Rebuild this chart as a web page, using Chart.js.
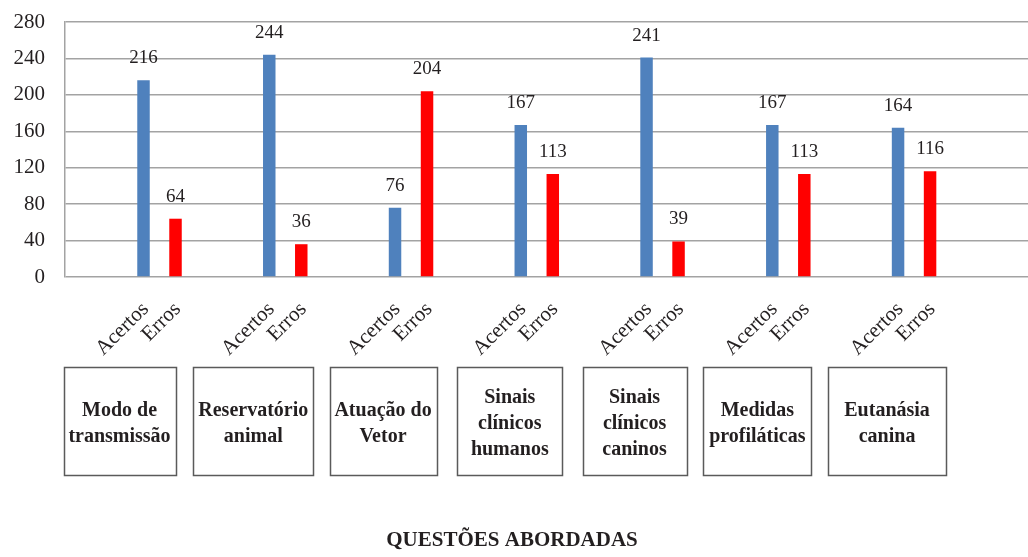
<!DOCTYPE html>
<html>
<head>
<meta charset="utf-8">
<script src="https://cdn.jsdelivr.net/npm/chart.js@4.4.1/dist/chart.umd.min.js"></script>
<style>
  html, body { margin: 0; padding: 0; background: #fff; }
  #wrap { width: 1028px; height: 557px; position: relative; }
</style>
</head>
<body>
<div id="wrap"><canvas id="barChart"></canvas></div>
<script>
// --- dados ---
const questoes = [
    ['Modo de', 'transmissão'],
    ['Reservatório', 'animal'],
    ['Atuação do', 'Vetor'],
    ['Sinais', 'clínicos', 'humanos'],
    ['Sinais', 'clínicos', 'caninos'],
    ['Medidas', 'profiláticas'],
    ['Eutanásia', 'canina']
];
const series = ['Acertos', 'Erros'];
const acertos = [216, 244, 76, 167, 241, 167, 164];
const erros = [64, 36, 204, 113, 39, 113, 116];
const yTicks = [0, 40, 80, 120, 160, 200, 240, 280];
const eixoTitulo = 'QUESTÕES ABORDADAS';

const serif = '"Liberation Serif", "Times New Roman", serif';
const textColor = '#231f20';

// posicao das caixas em relacao ao centro do grupo (layout, nao dados)
const boxShift = [-40, -32, -28, -27, -28, -31, -27];
const boxWidth = [112, 120, 107, 105, 104, 108, 118];

// rotulos, caixas e titulo do eixo x
const labelsPlugin = {
    id: 'labelsPlugin',
    afterDatasetsDraw(chart) {
        const ctx = chart.ctx;
        ctx.save();
        ctx.fillStyle = textColor;
        ctx.font = '19px ' + serif;
        ctx.textAlign = 'center';
        ctx.textBaseline = 'middle';
        chart.data.datasets.forEach((ds, d) => {
            chart.getDatasetMeta(d).data.forEach((bar, i) => {
                ctx.fillText(String(ds.data[i].y), bar.x, bar.y - 22);
            });
        });
        ctx.restore();
    },
    afterDraw(chart) {
        const ctx = chart.ctx;
        const xScale = chart.scales.x;
        ctx.save();
        ctx.fillStyle = textColor;

        // Acertos / Erros girados
        ctx.font = '21px ' + serif;
        ctx.textAlign = 'right';
        ctx.textBaseline = 'middle';
        chart.data.datasets.forEach((ds, d) => {
            chart.getDatasetMeta(d).data.forEach(bar => {
                ctx.save();
                ctx.translate(bar.x + 2, 306);
                ctx.rotate(-Math.PI / 4);
                ctx.fillText(series[d], 0, 0);
                ctx.restore();
            });
        });

        // caixas com as questoes
        ctx.font = 'bold 20px ' + serif;
        ctx.textAlign = 'center';
        ctx.strokeStyle = '#5a5a5a';
        ctx.lineWidth = 1.5;
        const top = 367, h = 108, lh = 26;
        questoes.forEach((lines, i) => {
            const cx = xScale.getPixelForValue(i) + boxShift[i];
            const w = boxWidth[i];
            ctx.strokeRect(Math.round(cx - w / 2) + 0.5, top + 0.5, w, h);
            const y0 = top + h / 2 + 3 - (lines.length - 1) * lh / 2;
            lines.forEach((t, k) => ctx.fillText(t, cx, y0 + k * lh));
        });

        // titulo do eixo
        ctx.font = 'bold 21px ' + serif;
        ctx.textBaseline = 'alphabetic';
        ctx.fillText(eixoTitulo, 512, 546);
        ctx.restore();
    }
};

document.addEventListener('DOMContentLoaded', function() {
    const ctxBar = document.getElementById('barChart');
    new Chart(ctxBar, {
        type: 'bar',
        data: {
            datasets: [{
                label: series[0],
                data: acertos.map((v, i) => ({ x: i, y: v })),
                backgroundColor: '#4f81bd'
            }, {
                label: series[1],
                data: erros.map((v, i) => ({ x: i, y: v })),
                backgroundColor: '#ff0000'
            }]
        },
        options: {
            responsive: true,
            maintainAspectRatio: false,
            animation: false,
            categoryPercentage: 0.509,
            barPercentage: 0.39,
            layout: { padding: { top: 22, right: 0, left: 0, bottom: 0 } },
            plugins: {
                legend: { display: false },
                tooltip: { enabled: false }
            },
            scales: {
                x: {
                    type: 'linear',
                    offset: false,
                    min: -0.7515,
                    max: 6.906,
                    afterBuildTicks: s => { s.ticks = questoes.map((q, i) => ({ value: i })); },
                    afterFit: s => { s.height = 280; },
                    ticks: { display: false },
                    grid: { display: false, offset: false },
                    border: { display: false }
                },
                y: {
                    min: 0,
                    max: 280,
                    afterBuildTicks: s => { s.ticks = yTicks.map(v => ({ value: v })); },
                    afterFit: s => { s.width = 65; },
                    ticks: {
                        padding: 0,
                        color: textColor,
                        font: { family: serif, size: 21 }
                    },
                    grid: {
                        color: '#a3a3a3',
                        lineWidth: 1.5,
                        drawTicks: true,
                        tickLength: 20,
                        tickColor: 'rgba(0,0,0,0)'
                    },
                    border: { display: true, color: '#a3a3a3', width: 1.5 }
                }
            }
        },
        plugins: [labelsPlugin]
    });
});
</script>
</body>
</html>
